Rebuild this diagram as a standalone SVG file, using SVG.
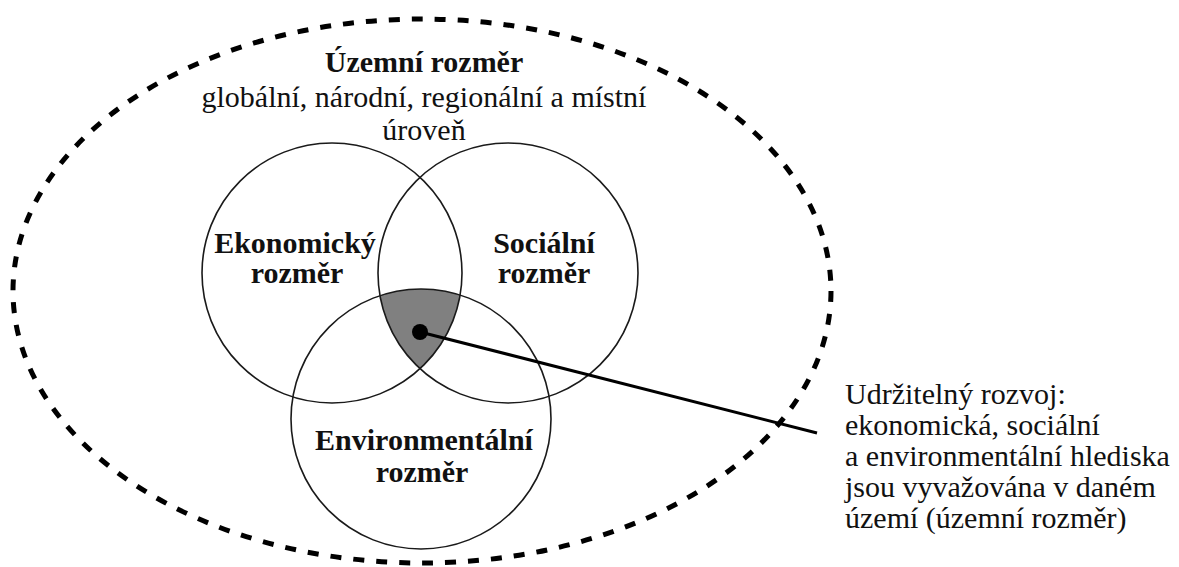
<svg xmlns="http://www.w3.org/2000/svg" width="1179" height="567" viewBox="0 0 1179 567">
<style>
text{font-family:"Liberation Serif","Times New Roman",serif;font-size:30px;fill:#111}
.b{font-weight:bold}
.c{text-anchor:middle}
.circ{fill:none;stroke:#1a1a1a;stroke-width:1.6}
</style>
<defs>
<clipPath id="clipS"><circle cx="508" cy="273" r="130"/></clipPath>
<clipPath id="clipEnv"><circle cx="421" cy="419" r="130"/></clipPath>
</defs>
<rect width="1179" height="567" fill="#fff"/>
<g id="territory">
<ellipse cx="422" cy="291" rx="409" ry="272" fill="none" stroke="#000" stroke-width="5" stroke-dasharray="11 12"/>
<text class="b c" x="424" y="72">Územní rozměr</text>
<text class="c" x="424" y="107">globální, národní, regionální a místní</text>
<text class="c" x="424" y="140">úroveň</text>
</g>
<g id="core">
<g clip-path="url(#clipS)"><g clip-path="url(#clipEnv)"><circle cx="332" cy="273" r="130" fill="#808080"/></g></g>
</g>
<g id="economic">
<circle class="circ" cx="332" cy="273" r="130"/>
<text class="b c" x="295" y="253">Ekonomický</text>
<text class="b c" x="297" y="283">rozměr</text>
</g>
<g id="social">
<circle class="circ" cx="508" cy="273" r="130"/>
<text class="b c" x="544" y="253">Sociální</text>
<text class="b c" x="544" y="283">rozměr</text>
</g>
<g id="environmental">
<circle class="circ" cx="421" cy="419" r="130"/>
<text class="b c" x="424" y="450">Environmentální</text>
<text class="b c" x="422" y="482">rozměr</text>
</g>
<g id="connectors">
<line x1="420" y1="332" x2="817" y2="433" stroke="#000" stroke-width="3"/>
<circle cx="420" cy="332" r="8" fill="#000"/>
</g>
<g id="sustainable">
<text x="845" y="404">Udržitelný rozvoj:</text>
<text x="845" y="435">ekonomická, sociální</text>
<text x="845" y="466">a environmentální hlediska</text>
<text x="845" y="497">jsou vyvažována v daném</text>
<text x="845" y="528">území (územní rozměr)</text>
</g>
</svg>
